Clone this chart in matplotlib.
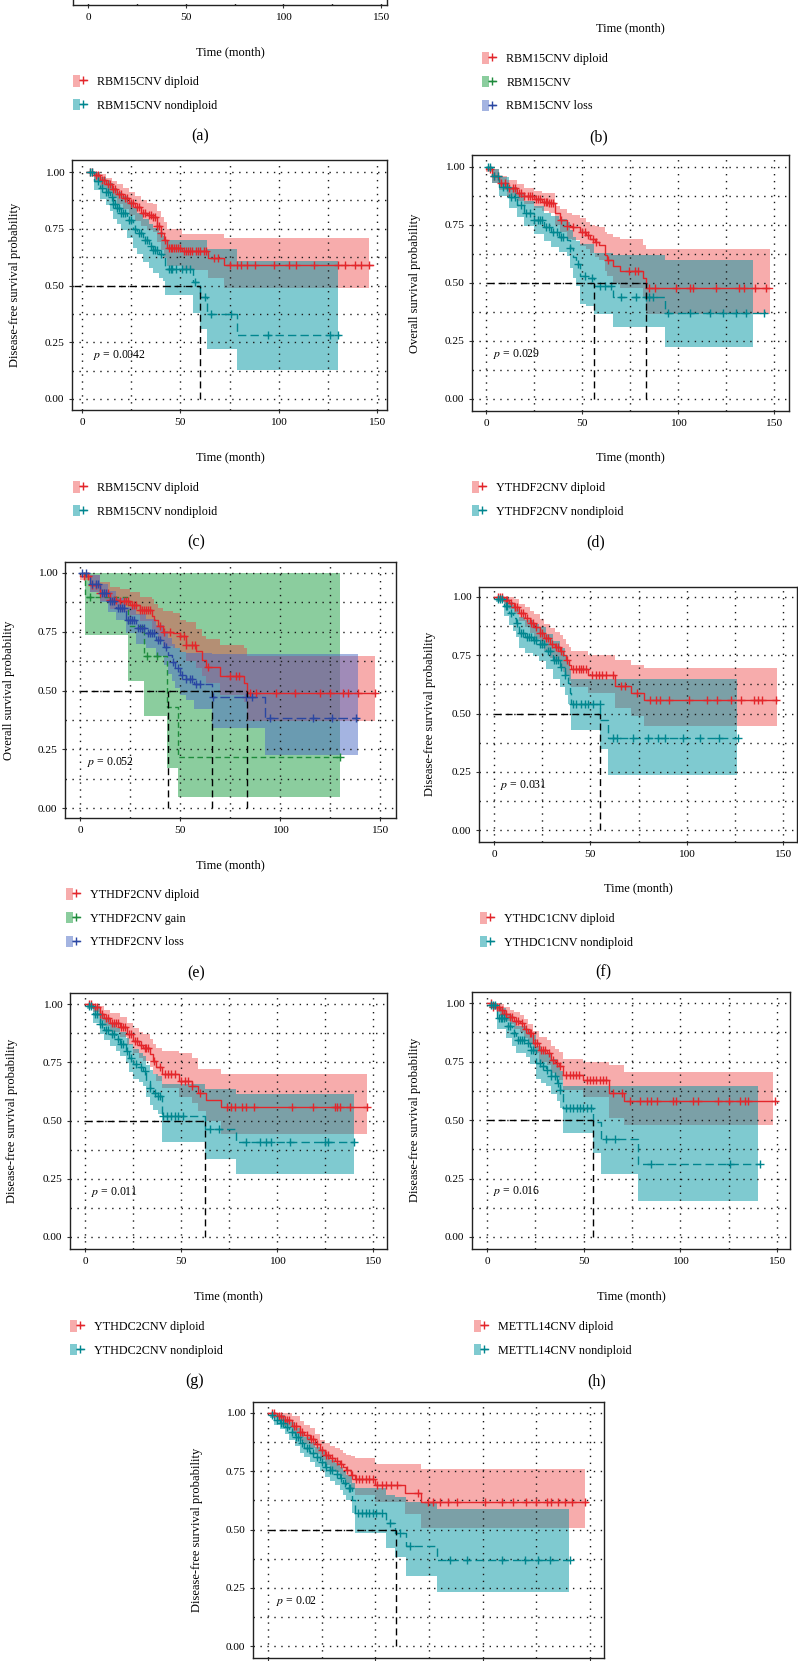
import numpy as np
import matplotlib
matplotlib.use("Agg")
import matplotlib.pyplot as plt
from matplotlib.patches import Patch
from matplotlib.lines import Line2D
from matplotlib.legend_handler import HandlerTuple

plt.rcParams['font.family'] = ['Liberation Serif', 'DejaVu Serif']
plt.rcParams['mathtext.fontset'] = 'stix'

W, H = 798, 1661

# ---- data (time in months, survival probability) ----
x_major = [0, 50, 100, 150]
x_minor = [25, 75, 125]
y_major = [0, 0.25, 0.5, 0.75, 1.0]
y_minor = [0.125, 0.375, 0.625, 0.875]
y_ticklabels = ['0.00', '0.25', '0.50', '0.75', '1.00']

# (c) RBM15 CNV, disease-free
c_dip_t = [3, 6, 9, 12, 15, 18, 21, 24, 27, 30, 33, 36, 38, 40, 41.5, 43, 51, 64, 72]
c_dip_s = [1.0, 0.985, 0.965, 0.945, 0.925, 0.905, 0.885, 0.865, 0.845, 0.82, 0.81, 0.80, 0.76, 0.73, 0.70, 0.667, 0.652, 0.62, 0.589]
c_dip_hi = [1.0, 1.0, 0.99, 0.975, 0.96, 0.945, 0.93, 0.91, 0.895, 0.875, 0.865, 0.86, 0.83, 0.80, 0.78, 0.75, 0.725, 0.725, 0.71]
c_dip_lo = [1.0, 0.96, 0.935, 0.91, 0.885, 0.86, 0.835, 0.81, 0.785, 0.76, 0.745, 0.735, 0.69, 0.655, 0.62, 0.585, 0.57, 0.535, 0.49]
c_dip_cens = [4, 5, 7, 8, 10, 11, 13, 14, 16, 17, 19, 20, 22, 23, 25, 26, 28, 29, 31, 32, 34, 35, 36, 37, 38, 39, 40,
              42, 44, 45, 46, 47, 48, 49, 50, 52, 53, 54, 55, 56, 58, 59, 60, 62, 63, 67, 69, 75, 78.7, 81, 84, 88,
              97.8, 105, 109, 118, 130, 133.5, 138.6, 142, 146]
c_non_t = [3, 6, 9, 12, 14, 16, 18, 20, 23, 26, 28, 31, 34, 36, 39, 41, 42, 56.4, 60, 63.5, 79]
c_non_s = [1.0, 0.96, 0.93, 0.91, 0.89, 0.86, 0.84, 0.82, 0.79, 0.75, 0.73, 0.70, 0.675, 0.655, 0.64, 0.625, 0.574, 0.515, 0.45, 0.375, 0.283]
c_non_hi = [1.0, 1.0, 0.98, 0.965, 0.95, 0.93, 0.91, 0.895, 0.87, 0.84, 0.82, 0.795, 0.77, 0.755, 0.735, 0.72, 0.70, 0.70, 0.70, 0.66, 0.61]
c_non_lo = [1.0, 0.92, 0.88, 0.855, 0.83, 0.795, 0.77, 0.745, 0.71, 0.665, 0.64, 0.605, 0.575, 0.555, 0.535, 0.52, 0.46, 0.38, 0.31, 0.22, 0.126]
c_non_cens = [4, 5, 8, 10, 12, 13, 15, 16, 17, 18, 19, 20, 21, 22, 24, 25, 27, 29, 30, 32, 33, 35, 36, 37, 38, 40,
              44, 45, 46, 48, 51, 53, 55, 57.5, 62.4, 65.5, 75.7, 94.4, 125.9, 130]
c_ends = [148, 146, 131, 130]   # line end / band end for diploid, then nondiploid
c_median = [60]

# (d) YTHDF2 CNV, overall
d_dip_t = [0, 3, 7, 11, 16, 20, 25, 29, 33, 36, 38.5, 42, 45, 49, 52, 54, 57, 59, 62, 63, 66, 70, 82, 83.2]
d_dip_s = [0.99, 0.96, 0.93, 0.91, 0.89, 0.875, 0.86, 0.85, 0.845, 0.80, 0.77, 0.745, 0.74, 0.72, 0.705, 0.69, 0.675, 0.665, 0.62, 0.60, 0.575, 0.55, 0.52, 0.48]
d_dip_hi = [1.0, 0.99, 0.96, 0.945, 0.925, 0.91, 0.895, 0.89, 0.89, 0.83, 0.82, 0.80, 0.795, 0.78, 0.765, 0.75, 0.745, 0.74, 0.72, 0.71, 0.70, 0.69, 0.665, 0.645]
d_dip_lo = [0.98, 0.93, 0.90, 0.875, 0.855, 0.84, 0.825, 0.81, 0.80, 0.75, 0.72, 0.69, 0.685, 0.66, 0.645, 0.63, 0.61, 0.60, 0.55, 0.53, 0.50, 0.48, 0.44, 0.365]
d_dip_cens = [2, 4, 6, 8, 10, 12, 14, 15, 17, 18, 20, 22, 23, 24, 26, 27, 28, 30, 31, 32, 33, 34, 35, 39.3, 42, 45.4,
              50, 51.5, 53.2, 55.5, 57.5, 63.6, 74.5, 77.5, 79.2, 85, 88, 99, 106, 108, 120, 132, 134.6, 140, 146]
d_non_t = [0, 3, 7, 12, 16, 20, 25, 30, 34, 38, 42, 43.7, 45.5, 47, 49, 52, 56.3, 66, 93]
d_non_s = [1.0, 0.96, 0.915, 0.87, 0.835, 0.80, 0.77, 0.74, 0.72, 0.70, 0.687, 0.65, 0.61, 0.58, 0.53, 0.52, 0.485, 0.44, 0.37]
d_non_hi = [1.0, 0.99, 0.955, 0.915, 0.885, 0.855, 0.83, 0.80, 0.79, 0.775, 0.765, 0.73, 0.70, 0.68, 0.67, 0.67, 0.63, 0.62, 0.60]
d_non_lo = [1.0, 0.93, 0.875, 0.825, 0.785, 0.745, 0.71, 0.68, 0.655, 0.635, 0.615, 0.565, 0.52, 0.485, 0.41, 0.40, 0.365, 0.31, 0.223]
d_non_cens = [1, 2, 4, 6, 9, 11, 13, 15, 18, 21, 23, 25, 27, 28, 29, 31, 33, 35, 37, 39, 40, 44, 48, 51.5, 55, 59.3,
              62, 65, 70.5, 78.3, 83.5, 85, 87, 95, 106, 116.5, 123.4, 130, 135.5, 145]
d_ends = [149, 148, 145, 139]
d_median = [56.3, 83.2]

# (e) YTHDF2 CNV, three groups, overall
e_dip_t = [0, 5, 10, 15, 20, 25, 30, 36, 37, 39, 41.7, 46.7, 50, 53, 58, 61, 63, 70, 82, 83.3]
e_dip_s = [0.986, 0.95, 0.915, 0.886, 0.88, 0.865, 0.844, 0.815, 0.80, 0.773, 0.75, 0.744, 0.73, 0.695, 0.666, 0.63, 0.60, 0.56, 0.53, 0.49]
e_dip_hi = [1.0, 0.99, 0.96, 0.94, 0.93, 0.92, 0.90, 0.89, 0.87, 0.85, 0.84, 0.83, 0.80, 0.79, 0.76, 0.73, 0.72, 0.695, 0.68, 0.645]
e_dip_lo = [0.97, 0.92, 0.88, 0.845, 0.835, 0.82, 0.795, 0.76, 0.745, 0.715, 0.69, 0.68, 0.665, 0.625, 0.595, 0.56, 0.53, 0.48, 0.45, 0.37]
e_dip_cens = [2, 4, 6, 8, 10, 12, 14, 15, 17, 18, 20, 22, 23, 24, 26, 27, 28, 30, 31, 32, 33, 34, 35, 40, 42, 45,
              50, 52, 53, 56, 57.5, 64, 75, 78, 79.5, 85, 88, 98, 107.5, 120, 125, 131.7, 134, 139, 147.5]
e_gain_t = [1.7, 2.5, 24, 32, 43.5, 49]
e_gain_s = [1.0, 0.90, 0.775, 0.645, 0.43, 0.215]
e_gain_hi = [1.0, 1.0, 1.0, 1.0, 1.0, 1.0]
e_gain_lo = [1.0, 0.735, 0.54, 0.39, 0.17, 0.045]
e_gain_cens = [5, 33.3, 38.3, 130]
e_loss_t = [0, 5, 10, 14, 18, 23, 28, 33, 38, 42, 44, 46, 47.5, 50, 53, 57, 66, 92.5]
e_loss_s = [1.0, 0.955, 0.915, 0.88, 0.85, 0.80, 0.765, 0.745, 0.716, 0.687, 0.65, 0.623, 0.595, 0.567, 0.55, 0.528, 0.474, 0.382]
e_loss_hi = [1.0, 0.99, 0.955, 0.925, 0.895, 0.855, 0.825, 0.805, 0.78, 0.755, 0.725, 0.70, 0.68, 0.665, 0.66, 0.66, 0.656, 0.656]
e_loss_lo = [1.0, 0.92, 0.875, 0.835, 0.80, 0.745, 0.70, 0.68, 0.645, 0.61, 0.57, 0.54, 0.51, 0.48, 0.46, 0.42, 0.34, 0.225]
e_loss_cens = [1, 3, 6, 8, 9, 11, 12, 13, 15, 16, 17, 19, 20, 21, 22, 24, 25, 26, 27, 29, 30, 31, 32, 34, 35, 36,
               37, 39, 40, 43, 46.7, 49, 51, 53, 55, 56, 58, 60, 66.7, 83, 86, 95, 116.7, 125.8, 138]
e_ends = [147.5, 147.5, 130, 130, 139, 139]
e_median = [43.8, 65.8, 83.3]

# (f) YTHDC1 CNV, disease-free
f_dip_t = [0, 5, 8, 10.5, 13, 16, 18.5, 21, 23.7, 26, 29, 31.5, 34, 36, 37.5, 39, 40, 48.8, 63, 71, 78]
f_dip_s = [1.0, 0.985, 0.975, 0.955, 0.93, 0.91, 0.89, 0.87, 0.846, 0.825, 0.80, 0.785, 0.767, 0.75, 0.73, 0.71, 0.69, 0.667, 0.617, 0.59, 0.557]
f_dip_hi = [1.0, 1.0, 1.0, 0.99, 0.97, 0.955, 0.94, 0.925, 0.905, 0.885, 0.865, 0.85, 0.835, 0.82, 0.80, 0.785, 0.77, 0.753, 0.73, 0.71, 0.696]
f_dip_lo = [1.0, 0.97, 0.95, 0.925, 0.895, 0.87, 0.845, 0.82, 0.79, 0.77, 0.74, 0.725, 0.70, 0.68, 0.66, 0.64, 0.615, 0.59, 0.524, 0.49, 0.446]
f_dip_cens = [2, 3, 4, 6, 7, 9, 11, 12, 14, 15, 17, 19, 20, 22, 24, 25, 27, 28, 30, 32, 33, 35, 38, 41, 42.5, 44,
              45, 46, 47.5, 51, 53, 54.5, 56, 58, 61.6, 66, 68, 74, 81, 84, 86, 91, 101, 110.7, 116, 123, 128, 135,
              137, 139, 146.5]
f_non_t = [1, 5, 8, 10, 11.6, 13, 16, 20, 23.5, 27, 30.6, 34, 36.7, 38.4, 39.6, 40, 55, 59]
f_non_s = [0.99, 0.96, 0.93, 0.91, 0.89, 0.846, 0.83, 0.817, 0.80, 0.767, 0.73, 0.70, 0.667, 0.63, 0.59, 0.54, 0.474, 0.396]
f_non_hi = [1.0, 1.0, 0.98, 0.965, 0.95, 0.915, 0.90, 0.885, 0.87, 0.84, 0.81, 0.78, 0.75, 0.72, 0.685, 0.646, 0.646, 0.646]
f_non_lo = [0.98, 0.92, 0.88, 0.855, 0.83, 0.78, 0.76, 0.745, 0.725, 0.69, 0.65, 0.615, 0.58, 0.54, 0.50, 0.43, 0.346, 0.236]
f_non_cens = [2, 3, 4, 6, 7, 9, 12, 14, 15, 17, 18, 19, 21, 22, 24, 25, 26, 28, 29, 31, 32, 33, 35, 37, 41, 42.7,
              45, 47, 49, 51.4, 54.8, 61.8, 64, 72, 80, 85, 89, 98, 107, 117, 126.6]
f_ends = [147, 147, 126.6, 126]
f_median = [55]

# (g) YTHDC2 CNV, disease-free
g_dip_t = [0, 4, 7.8, 10, 13, 18, 22, 25, 28, 30, 34, 35.5, 37, 40, 49, 55.5, 59, 63, 71]
g_dip_s = [1.0, 0.985, 0.957, 0.94, 0.92, 0.90, 0.87, 0.84, 0.825, 0.81, 0.786, 0.757, 0.73, 0.70, 0.67, 0.65, 0.62, 0.59, 0.557]
g_dip_hi = [1.0, 1.0, 0.99, 0.975, 0.96, 0.945, 0.92, 0.895, 0.88, 0.87, 0.85, 0.83, 0.81, 0.80, 0.79, 0.77, 0.72, 0.72, 0.70]
g_dip_lo = [1.0, 0.965, 0.925, 0.905, 0.88, 0.86, 0.825, 0.79, 0.77, 0.755, 0.73, 0.70, 0.67, 0.64, 0.60, 0.575, 0.54, 0.50, 0.44]
g_dip_cens = [2, 3, 5, 6, 8, 9, 11, 12, 14, 15, 16, 17, 19, 20, 21, 23, 24, 26, 27, 29, 31, 32, 33, 36, 39, 41.5,
              43, 45, 47, 50, 52, 53.5, 55.5, 59.8, 74, 76, 78, 82, 84, 88, 108, 118.7, 130, 131.5, 133, 137.8, 147]
g_non_t = [1, 4, 7.8, 10, 13, 16, 18, 21.6, 23, 25, 28, 30, 32, 34, 35.5, 38, 40, 62.7, 78.5]
g_non_s = [0.99, 0.955, 0.914, 0.89, 0.87, 0.85, 0.83, 0.80, 0.77, 0.743, 0.73, 0.714, 0.67, 0.64, 0.62, 0.607, 0.52, 0.464, 0.407]
g_non_hi = [1.0, 0.99, 0.955, 0.935, 0.915, 0.895, 0.88, 0.855, 0.83, 0.805, 0.79, 0.775, 0.74, 0.715, 0.70, 0.69, 0.657, 0.636, 0.614]
g_non_lo = [0.98, 0.92, 0.87, 0.845, 0.82, 0.80, 0.775, 0.745, 0.71, 0.68, 0.665, 0.65, 0.60, 0.565, 0.545, 0.53, 0.407, 0.336, 0.27]
g_non_cens = [2, 3, 5, 6, 8, 9, 11, 12, 14, 15, 17, 19, 20, 22, 24, 26.5, 29, 31.5, 34, 36.5, 38, 39, 40.7, 42.5,
              45, 47, 48.5, 51, 65, 70, 84, 91, 94.5, 97, 106.6, 124.8, 126.5, 140]
g_ends = [147, 147, 140, 140]
g_median = [62.7]

# (h) METTL14 CNV, disease-free
h_dip_t = [0, 3, 6.6, 9, 11.7, 14, 17, 19, 21, 24, 27, 31, 33, 35, 37, 39.4, 49.7, 63, 71]
h_dip_s = [1.0, 0.985, 0.97, 0.955, 0.94, 0.925, 0.914, 0.89, 0.87, 0.83, 0.80, 0.786, 0.757, 0.745, 0.73, 0.693, 0.67, 0.614, 0.583]
h_dip_hi = [1.0, 1.0, 0.995, 0.985, 0.97, 0.96, 0.95, 0.93, 0.91, 0.88, 0.855, 0.84, 0.815, 0.805, 0.79, 0.76, 0.75, 0.736, 0.707]
h_dip_lo = [1.0, 0.97, 0.945, 0.925, 0.91, 0.89, 0.875, 0.85, 0.83, 0.785, 0.75, 0.735, 0.70, 0.69, 0.67, 0.63, 0.60, 0.51, 0.479]
h_dip_cens = [2, 3, 5, 6, 8, 9, 10, 12, 13, 15, 16, 18, 20, 22, 23, 25, 26, 28, 29, 30, 32, 34, 36, 38, 41, 42.7,
              44.4, 46.1, 47.8, 51.5, 53.2, 55, 56.6, 58.4, 60, 61.8, 65, 70, 74, 79, 82.6, 85, 87.7, 96, 98, 106.7,
              109, 119.7, 125, 131, 133.5, 135, 149]
h_non_t = [1, 5, 10, 13, 15, 20, 22, 25.6, 28, 30.7, 33, 36, 37.7, 39.4, 55, 59, 78]
h_non_s = [0.99, 0.935, 0.90, 0.87, 0.843, 0.83, 0.80, 0.743, 0.73, 0.714, 0.686, 0.657, 0.63, 0.55, 0.493, 0.42, 0.314]
h_non_hi = [1.0, 0.98, 0.95, 0.925, 0.90, 0.89, 0.865, 0.815, 0.80, 0.785, 0.76, 0.735, 0.71, 0.646, 0.646, 0.646, 0.646]
h_non_lo = [0.98, 0.89, 0.85, 0.815, 0.785, 0.77, 0.74, 0.675, 0.66, 0.645, 0.61, 0.58, 0.55, 0.446, 0.357, 0.27, 0.153]
h_non_cens = [2, 3, 4, 6, 7, 8, 9, 11, 12, 14, 16, 17, 18, 19, 21, 23, 24, 27.3, 29, 31, 33, 35, 36.8, 38, 41, 42.7,
              44.4, 46.3, 48, 49.7, 51.5, 54, 61.8, 66, 85, 125.7, 141]
h_ends = [149, 148, 141, 140]
h_median = [55]

# (i) disease-free, last panel
i_dip_t = [0, 4, 7, 11, 14.8, 17, 19.4, 22, 24, 26.5, 28.8, 31, 33.4, 35, 36.5, 38.5, 40.4, 49.8, 63.8, 71.5]
i_dip_s = [1.0, 0.985, 0.97, 0.945, 0.92, 0.905, 0.89, 0.865, 0.84, 0.82, 0.807, 0.795, 0.78, 0.77, 0.756, 0.735, 0.716, 0.692, 0.656, 0.62]
i_dip_hi = [1.0, 1.0, 1.0, 0.985, 0.965, 0.95, 0.935, 0.91, 0.885, 0.87, 0.86, 0.85, 0.84, 0.83, 0.82, 0.815, 0.807, 0.78, 0.78, 0.76]
i_dip_lo = [1.0, 0.97, 0.945, 0.91, 0.88, 0.865, 0.85, 0.825, 0.80, 0.775, 0.76, 0.745, 0.73, 0.715, 0.70, 0.675, 0.65, 0.62, 0.565, 0.506]
i_dip_cens = [2, 3, 5, 6, 8, 9, 10, 12, 13, 15, 16, 18, 20, 21, 23, 25, 27, 28, 30, 32, 34, 37, 39, 41, 42.5, 44,
              45.7, 47.2, 48.7, 51, 52.9, 55, 57.5, 60, 70, 74.6, 77, 80, 84, 88, 101, 109, 114, 120, 125, 130, 132,
              135, 138.4, 141.5, 147.7]
i_non_t = [1, 3, 5.4, 8, 10, 12.5, 14.8, 17, 19.4, 22, 24, 26.5, 28.8, 31, 33.4, 35, 36.5, 39, 40.4, 55, 59, 64.5, 78.8]
i_non_s = [0.99, 0.97, 0.957, 0.94, 0.92, 0.895, 0.87, 0.85, 0.83, 0.81, 0.79, 0.77, 0.756, 0.74, 0.72, 0.70, 0.678, 0.627, 0.57, 0.527, 0.484, 0.43, 0.37]
i_non_hi = [1.0, 1.0, 0.99, 0.975, 0.96, 0.935, 0.915, 0.895, 0.875, 0.855, 0.835, 0.815, 0.80, 0.785, 0.77, 0.75, 0.735, 0.70, 0.678, 0.65, 0.64, 0.62, 0.59]
i_non_lo = [0.98, 0.95, 0.93, 0.91, 0.885, 0.86, 0.83, 0.81, 0.79, 0.77, 0.75, 0.725, 0.71, 0.69, 0.67, 0.65, 0.625, 0.57, 0.484, 0.42, 0.384, 0.30, 0.23]
i_non_cens = [2, 4, 6, 7, 9, 11, 13, 14, 16, 18, 19, 21, 23, 25, 27, 29, 30, 32, 34, 36, 37.5, 38.3, 42, 44, 45.6,
              47.2, 48.7, 50.3, 52.9, 56.8, 61.4, 66, 84.8, 92.5, 108.9, 119.7, 126, 131.4, 140.7]
i_ends = [148.5, 147.7, 140.7, 140]
i_median = [59.4]

p_values = {'c': '0.0042', 'd': '0.029', 'e': '0.052', 'f': '0.031', 'g': '0.011', 'h': '0.016', 'i': '0.02'}
p_x = {'c': 5.6, 'd': 3.5, 'e': 3.7, 'f': 2.9, 'g': 3.0, 'h': 3.1, 'i': 3.6}

legend_labels = {
    'a': ['RBM15CNV diploid', 'RBM15CNV nondiploid'],
    'b': ['RBM15CNV diploid', 'RBM15CNV', 'RBM15CNV loss'],
    'c': ['RBM15CNV diploid', 'RBM15CNV nondiploid'],
    'd': ['YTHDF2CNV diploid', 'YTHDF2CNV nondiploid'],
    'e': ['YTHDF2CNV diploid', 'YTHDF2CNV gain', 'YTHDF2CNV loss'],
    'f': ['YTHDC1CNV diploid', 'YTHDC1CNV nondiploid'],
    'g': ['YTHDC2CNV diploid', 'YTHDC2CNV nondiploid'],
    'h': ['METTL14CNV diploid', 'METTL14CNV nondiploid'],
}
ylabels = {'c': 'Disease-free survival probability', 'd': 'Overall survival probability',
           'e': 'Overall survival probability', 'f': 'Disease-free survival probability',
           'g': 'Disease-free survival probability', 'h': 'Disease-free survival probability',
           'i': 'Disease-free survival probability'}

# ---- styles ----
RED, RED_FILL, RED_A = '#E3262B', '#EE3B3B', 0.42
TEAL, TEAL_FILL, TEAL_A = '#00868F', '#0096A3', 0.5
GREEN, GREEN_FILL, GREEN_A = '#1E8B3C', '#22A045', 0.52
BLUE, BLUE_FILL, BLUE_A = '#2A47A3', '#4B6BC4', 0.5
SOLID = '-'
DASH = (0, (6, 3))
GDASH = (0, (4, 2.5))
BDASH = (0, (7, 3))
col_dip = (RED, RED_FILL, RED_A, SOLID)
col_non = (TEAL, TEAL_FILL, TEAL_A, DASH)
col_gain = (GREEN, GREEN_FILL, GREEN_A, GDASH)
col_loss = (BLUE, BLUE_FILL, BLUE_A, BDASH)

# pixel layout: frame (left, top, right, bottom), x=0 px, x=150 px, y=1 px, y=0 px
layout = {
    'a': dict(frame=(73, -250, 387, 5), x0=88, x150=381, y1=-239, y0=-7),
    'b': dict(frame=(472, -268, 789, -18), x0=486, x150=774, y1=-256, y0=-30),
    'c': dict(frame=(72, 160, 387, 410), x0=82, x150=377, y1=172, y0=399),
    'd': dict(frame=(472, 155, 789, 411), x0=486, x150=774, y1=167, y0=399),
    'e': dict(frame=(65, 562, 396, 818), x0=80, x150=380, y1=573, y0=808),
    'f': dict(frame=(479, 587, 797, 842), x0=494, x150=783, y1=597, y0=830),
    'g': dict(frame=(70, 993, 387, 1249), x0=85, x150=373, y1=1004, y0=1237),
    'h': dict(frame=(472, 992, 790, 1249), x0=487, x150=777, y1=1003, y0=1237),
    'i': dict(frame=(253, 1402, 604, 1658), x0=268, x150=590, y1=1413, y0=1646),
}
# parts of panels that fall outside the picture: hide their tick labels
hide_left = ['a', 'b']
hide_bottom = ['b', 'i']
xlabel_pos = {'a': (230, 52), 'b': (630, 28), 'c': (230, 457), 'd': (630, 457),
              'e': (230, 865), 'f': (638, 888), 'g': (228, 1296), 'h': (631, 1296)}
ylabel_pos = {'c': (15, 285), 'd': (415, 283), 'e': (9, 690), 'f': (430, 714),
              'g': (12, 1121), 'h': (415, 1120), 'i': (197, 1530)}
legend_pos = {'a': (73, 82), 'b': (482, 59), 'c': (73, 488), 'd': (472, 488),
              'e': (66, 895), 'f': (480, 919), 'g': (70, 1327), 'h': (474, 1327)}
letter_pos = {'a': (200, 136), 'b': (599, 137), 'c': (196, 542), 'd': (596, 542),
              'e': (196, 973), 'f': (603, 972), 'g': (195, 1381), 'h': (597, 1381)}

fig = plt.figure(figsize=(W / 100, H / 100), dpi=100)


def px_axes(l, t, r, b):
    return fig.add_axes([l / W, 1 - b / H, (r - l) / W, (b - t) / H])


def setup(ax, lay):
    l, t, r, b = lay['frame']
    ppm = (lay['x150'] - lay['x0']) / 150.0
    ppu = float(lay['y0'] - lay['y1'])
    ax.set_xlim((l - lay['x0']) / ppm, (r - lay['x0']) / ppm)
    ax.set_ylim((lay['y0'] - b) / ppu, (lay['y0'] - t) / ppu)
    ax.set_xticks(x_major)
    ax.set_xticks(x_minor, minor=True)
    ax.set_yticks(y_major)
    ax.set_yticklabels(y_ticklabels)
    ax.set_yticks(y_minor, minor=True)
    ax.grid(True, which='both', color='#1a1a1a', lw=1.0, ls=(0, (1, 4)))
    ax.set_axisbelow('line')
    ax.tick_params(which='major', length=2.5, width=0.8, pad=3, labelsize=8.2, color='#333333')
    ax.tick_params(which='minor', length=0)
    for sp in ax.spines.values():
        sp.set_linewidth(1.0)
        sp.set_color('#222222')


def km(ax, t, s, lo, hi, t_end, ci_end, cens, style):
    line, fill, alpha, ls = style
    ax.fill_between(t + [ci_end], lo + [lo[-1]], hi + [hi[-1]], step='post',
                    color=fill, alpha=alpha, lw=0, zorder=1)
    ax.step(t + [t_end], s + [s[-1]], where='post', color=line, lw=1.0, ls=ls, zorder=2)
    idx = np.searchsorted(t, cens, side='right') - 1
    ax.plot(cens, np.array(s)[idx], ls='none', marker='+', ms=5.5, mew=1.0, color=line, zorder=3)


def medians(ax, meds, x0=0):
    kw = dict(color='black', lw=1.0, ls=(0, (5, 3)), zorder=4)
    ax.plot([x0, max(meds)], [0.5, 0.5], **kw)
    for m in meds:
        ax.plot([m, m], [0, 0.5], **kw)


def legend(key, styles):
    left, first = legend_pos[key]
    handles = [(Patch(facecolor=st[1], alpha=st[2], lw=0),
                Line2D([], [], color=st[0], lw=1.0, marker='+', ms=6, mew=1.0)) for st in styles]
    fig.legend(handles, legend_labels[key], loc='upper left',
               bbox_to_anchor=(left / W, 1 - (first - 7) / H), frameon=False, fontsize=8.7,
               handler_map={tuple: HandlerTuple(ndivide=None, pad=0)},
               handlelength=1.15, handleheight=1.1, handletextpad=0.85, labelspacing=0.9,
               borderpad=0, borderaxespad=0)


panels = {
    'c': ([(c_dip_t, c_dip_s, c_dip_lo, c_dip_hi, c_ends[0], c_ends[1], c_dip_cens, col_dip),
           (c_non_t, c_non_s, c_non_lo, c_non_hi, c_ends[2], c_ends[3], c_non_cens, col_non)], c_median, -4),
    'd': ([(d_dip_t, d_dip_s, d_dip_lo, d_dip_hi, d_ends[0], d_ends[1], d_dip_cens, col_dip),
           (d_non_t, d_non_s, d_non_lo, d_non_hi, d_ends[2], d_ends[3], d_non_cens, col_non)], d_median, 0.7),
    'e': ([(e_gain_t, e_gain_s, e_gain_lo, e_gain_hi, e_ends[2], e_ends[3], e_gain_cens, col_gain),
           (e_dip_t, e_dip_s, e_dip_lo, e_dip_hi, e_ends[0], e_ends[1], e_dip_cens, col_dip),
           (e_loss_t, e_loss_s, e_loss_lo, e_loss_hi, e_ends[4], e_ends[5], e_loss_cens, col_loss)], e_median, 0),
    'f': ([(f_dip_t, f_dip_s, f_dip_lo, f_dip_hi, f_ends[0], f_ends[1], f_dip_cens, col_dip),
           (f_non_t, f_non_s, f_non_lo, f_non_hi, f_ends[2], f_ends[3], f_non_cens, col_non)], f_median, 0),
    'g': ([(g_dip_t, g_dip_s, g_dip_lo, g_dip_hi, g_ends[0], g_ends[1], g_dip_cens, col_dip),
           (g_non_t, g_non_s, g_non_lo, g_non_hi, g_ends[2], g_ends[3], g_non_cens, col_non)], g_median, 0),
    'h': ([(h_dip_t, h_dip_s, h_dip_lo, h_dip_hi, h_ends[0], h_ends[1], h_dip_cens, col_dip),
           (h_non_t, h_non_s, h_non_lo, h_non_hi, h_ends[2], h_ends[3], h_non_cens, col_non)], h_median, 0),
    'i': ([(i_dip_t, i_dip_s, i_dip_lo, i_dip_hi, i_ends[0], i_ends[1], i_dip_cens, col_dip),
           (i_non_t, i_non_s, i_non_lo, i_non_hi, i_ends[2], i_ends[3], i_non_cens, col_non)], i_median, 0),
}

for key, lay in layout.items():
    ax = px_axes(*lay['frame'])
    setup(ax, lay)
    if key in hide_left:
        ax.tick_params(labelleft=False)
    if key in hide_bottom:
        ax.tick_params(labelbottom=False)
    if key in panels:
        groups, meds, mx0 = panels[key]
        for g in groups:
            km(ax, *g)
        medians(ax, meds, mx0)
        ax.text(p_x[key], 0.195, '$p$ = ' + p_values[key], fontsize=8.5, va='center', ha='left', zorder=5)
    if key in xlabel_pos:
        ax.set_xlabel('Time (month)', fontsize=9)
        xp, yp = xlabel_pos[key]
        ax.xaxis.set_label_coords(xp / W, 1 - yp / H, transform=fig.transFigure)
        ax.xaxis.label.set_va('center')
    if key in ylabel_pos:
        ax.set_ylabel(ylabels[key], fontsize=9)
        xp, yp = ylabel_pos[key]
        ax.yaxis.set_label_coords(xp / W, 1 - yp / H, transform=fig.transFigure)
        ax.yaxis.label.set_va('center')

legend('a', [col_dip, col_non])
legend('b', [col_dip, col_gain, col_loss])
legend('c', [col_dip, col_non])
legend('d', [col_dip, col_non])
legend('e', [col_dip, col_gain, col_loss])
legend('f', [col_dip, col_non])
legend('g', [col_dip, col_non])
legend('h', [col_dip, col_non])

for key, (xp, yp) in letter_pos.items():
    fig.text(xp / W, 1 - yp / H, '(' + key + ')', fontsize=11.5, ha='center', va='center')

fig.savefig('out.png', dpi=100)
